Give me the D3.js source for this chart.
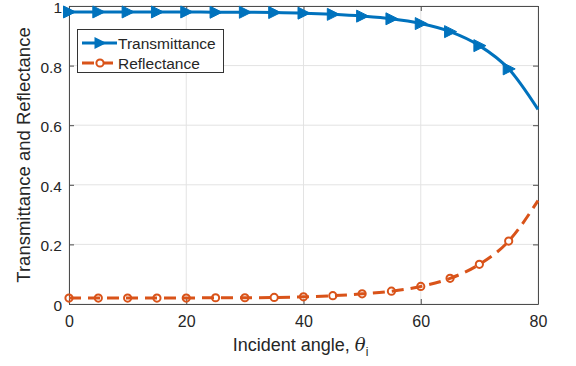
<!DOCTYPE html>
<html><head><meta charset="utf-8">
<script src="https://cdn.jsdelivr.net/npm/d3@7"></script>
<style>body{margin:0;background:#fff}svg{display:block}</style>
</head><body>
<svg id="c" width="576" height="366"></svg>
<script>
const angles = [0,5,10,15,20,25,30,35,40,45,50,55,60,65,70,75,80];
const transmittance = [0.98,0.98,0.98,0.98,0.98,0.979,0.979,0.978,0.976,0.972,0.966,0.957,0.941,0.914,0.867,0.789,0.653];
const reflectance = [0.02,0.02,0.02,0.02,0.02,0.021,0.021,0.022,0.024,0.028,0.034,0.043,0.059,0.086,0.133,0.211,0.347];
const xTicks = [0,20,40,60,80];
const yTicks = [0,0.2,0.4,0.6,0.8,1];
const seriesNames = ["Transmittance","Reflectance"];

const svg = d3.select("#c");
const L=69,R=538,T=6,B=304;
const x = d3.scaleLinear().domain([0,80]).range([L,R]);
const y = d3.scaleLinear().domain([0,1]).range([B,T]);
const blue="#0072BD", orange="#D95319", axc="#4d4d4d";
const font="'Liberation Sans', Arial, Helvetica, sans-serif";

// grid
const g = svg.append("g");
g.selectAll(".gx").data(xTicks).join("line").attr("x1",d=>x(d)).attr("x2",d=>x(d)).attr("y1",T).attr("y2",B).attr("stroke","#e3e3e3").attr("stroke-width",1);
g.selectAll(".gy").data(yTicks).join("line").attr("y1",d=>y(d)).attr("y2",d=>y(d)).attr("x1",L).attr("x2",R).attr("stroke","#e3e3e3").attr("stroke-width",1);

// axes
const xAxis = svg.append("g").attr("transform",`translate(0,${B})`).call(d3.axisBottom(x).tickValues(xTicks).tickSizeInner(-5).tickSizeOuter(0).tickPadding(12));
const yAxis = svg.append("g").attr("transform",`translate(${L},0)`).call(d3.axisLeft(y).tickValues(yTicks).tickFormat(d=>d3.format("")(d)).tickSizeInner(-5).tickSizeOuter(0).tickPadding(7));
const xTop = svg.append("g").attr("transform",`translate(0,${T})`).call(d3.axisTop(x).tickValues(xTicks).tickSizeInner(-5).tickSizeOuter(0).tickFormat(""));
const yRight = svg.append("g").attr("transform",`translate(${R},0)`).call(d3.axisRight(y).tickValues(yTicks).tickSizeInner(-5).tickSizeOuter(0).tickFormat(""));
[xAxis,yAxis,xTop,yRight].forEach(a=>{
  a.select(".domain").attr("stroke",axc).attr("stroke-width",1);
  a.selectAll(".tick line").attr("stroke",axc);
  a.selectAll(".tick text").attr("fill","#262626").style("font-family",font).style("font-size","16px");
});
yAxis.selectAll(".tick text").attr("dy","0.42em").style("font-size","15.5px");

// lines
const lineT = d3.line().x((d,i)=>x(angles[i])).y(d=>y(d)).curve(d3.curveMonotoneX);
svg.append("path").attr("d",lineT(transmittance)).attr("fill","none").attr("stroke",blue).attr("stroke-width",3);
svg.append("path").attr("d",lineT(reflectance)).attr("fill","none").attr("stroke",orange).attr("stroke-width",3).attr("stroke-dasharray","12,7");

// markers (every 5 degrees, last one at 75)
const mIdx = d3.range(0, angles.length-1);
const tri = s=>`M${-s*0.55},${-s*0.6}L${s*0.65},0L${-s*0.55},${s*0.6}Z`;
svg.selectAll(".mt").data(mIdx).join("path").attr("transform",i=>`translate(${x(angles[i])},${y(transmittance[i])})`).attr("d",tri(10)).attr("fill",blue).attr("stroke",blue).attr("stroke-width",1);
svg.selectAll(".mr").data(mIdx).join("circle").attr("cx",i=>x(angles[i])).attr("cy",i=>y(reflectance[i])).attr("r",3.6).attr("fill","none").attr("stroke",orange).attr("stroke-width",2);

// legend
const lg = svg.append("g");
lg.append("rect").attr("x",77.5).attr("y",29.5).attr("width",146).attr("height",43).attr("fill","#fff").attr("stroke","#333").attr("stroke-width",1);
lg.append("line").attr("x1",82).attr("x2",117).attr("y1",43).attr("y2",43).attr("stroke",blue).attr("stroke-width",3);
lg.append("path").attr("transform","translate(100,43)").attr("d",tri(10)).attr("fill",blue);
lg.append("line").attr("x1",82).attr("x2",117).attr("y1",63).attr("y2",63).attr("stroke",orange).attr("stroke-width",3).attr("stroke-dasharray","12,7");
lg.append("circle").attr("cx",100).attr("cy",63).attr("r",3.6).attr("fill","#fff").attr("stroke",orange).attr("stroke-width",2);
lg.selectAll(".lt").data(seriesNames).join("text").attr("x",118).attr("y",(d,i)=>48.5+i*20).text(d=>d).attr("fill","#262626").style("font-family",font).style("font-size","15.5px");

// axis labels
svg.append("text").attr("x",(L+R)/2 - 3).attr("y",351).attr("text-anchor","middle").attr("fill","#262626").style("font-family",font).style("font-size","18px")
  .html('Incident angle, <tspan font-family="\'DejaVu Serif\', serif" font-style="italic">θ</tspan><tspan dy="5" font-size="12px">i</tspan>');
svg.append("text").attr("transform",`translate(30,${(T+B)/2}) rotate(-90)`).attr("text-anchor","middle").attr("fill","#262626").style("font-family",font).style("font-size","18.5px").text("Transmittance and Reflectance");
</script>
</body></html>
